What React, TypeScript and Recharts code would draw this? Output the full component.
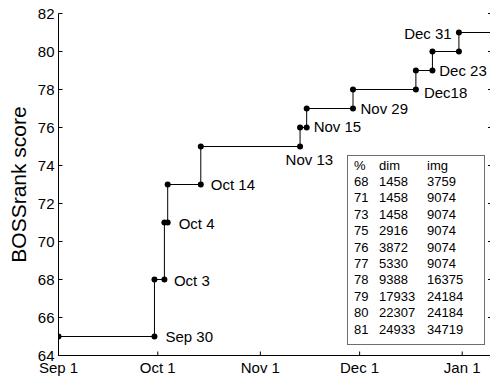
import React from 'react';
import { ComposedChart, Line, Scatter, XAxis, YAxis } from 'recharts';

// days counted from Sep 1; each score level has a dot where it starts and where it ends
const stepDays = [0, 29, 29, 32, 32, 33, 33, 43, 43, 73, 73, 75, 75, 89, 89, 108, 108, 113, 113, 121, 121, 135];
const stepScores = [65, 65, 68, 68, 71, 71, 73, 73, 75, 75, 76, 76, 77, 77, 78, 78, 79, 79, 80, 80, 81, 81];

const xTicks = [0, 30, 61, 91, 122];
const xTickLabels = ['Sep 1', 'Oct 1', 'Nov 1', 'Dec 1', 'Jan 1'];
const yTicks = [64, 66, 68, 70, 72, 74, 76, 78, 80, 82];

const annotLabels = ['Sep 30', 'Oct 3', 'Oct 4', 'Oct 14', 'Nov 13', 'Nov 15', 'Nov 29', 'Dec18', 'Dec 23', 'Dec 31'];
const annotDays = [29, 32, 33, 43, 73, 75, 89, 108, 113, 121];
const annotScores = [65, 68, 71, 73, 75, 76, 77, 78, 79, 81];

const tablePct = [68, 71, 73, 75, 76, 77, 78, 79, 80, 81];
const tableDim = [1458, 1458, 1458, 2916, 3872, 5330, 9388, 17933, 22307, 24933];
const tableImg = [3759, 9074, 9074, 9074, 9074, 9074, 16375, 24184, 24184, 34719];

// where each note sits next to its point: [dx, dy, anchor]
const notePlacement: Record<string, [number, number, 'start' | 'middle' | 'end']> = {
  'Sep 30': [11, 0, 'start'],
  'Oct 3': [9.5, 1, 'start'],
  'Oct 4': [11, 1.5, 'start'],
  'Oct 14': [10, 0, 'start'],
  'Nov 13': [9.3, 13.5, 'middle'],
  'Nov 15': [7, -0.8, 'start'],
  'Nov 29': [7.5, 0, 'start'],
  'Dec18': [8, 3, 'start'],
  'Dec 23': [6.8, 0, 'start'],
  'Dec 31': [-7.2, 0.8, 'end'],
};

const FONT = '"Liberation Sans", Arial, Helvetica, sans-serif';
const TICK_LEN = 4;

const chartData = stepDays.map((day, i) => ({ day, score: stepScores[i] }));
const noteData = annotDays.map((day, i) => ({ day, score: annotScores[i], label: annotLabels[i] }));

const BottomTick = (props: any) => {
  const { x, y, payload } = props;
  const idx = xTicks.indexOf(payload.value);
  return (
    <g>
      <line x1={x} y1={y} x2={x} y2={y - TICK_LEN} stroke="#000" />
      <text x={x} y={y + 17} textAnchor="middle" fontSize={15} fontFamily={FONT} fill="#000">
        {idx >= 0 ? xTickLabels[idx] : ''}
      </text>
    </g>
  );
};

const TopTick = (props: any) => {
  const { x, y } = props;
  return <line x1={x} y1={y} x2={x} y2={y + TICK_LEN} stroke="#000" />;
};

const LeftTick = (props: any) => {
  const { x, y, payload } = props;
  return (
    <g>
      <line x1={x} y1={y} x2={x + TICK_LEN} y2={y} stroke="#000" />
      <text x={x - 4} y={y} dy="0.36em" textAnchor="end" fontSize={15} fontFamily={FONT} fill="#000">
        {payload.value}
      </text>
    </g>
  );
};

const RightTick = (props: any) => {
  const { x, y } = props;
  return <line x1={x} y1={y} x2={x - TICK_LEN} y2={y} stroke="#000" />;
};

const NoteShape = (props: any) => {
  const { cx, cy, payload } = props;
  const [dx, dy, anchor] = notePlacement[payload.label] || [8, 0, 'start'];
  return (
    <text
      x={cx + dx}
      y={cy + dy}
      dy="0.36em"
      textAnchor={anchor}
      fontSize={15}
      fontFamily={FONT}
      fill="#000"
    >
      {payload.label}
    </text>
  );
};

const YLabel = (props: any) => {
  const { viewBox } = props;
  const cy = viewBox.y + viewBox.height / 2;
  return (
    <text
      transform={`translate(26, ${cy}) rotate(-90)`}
      textAnchor="middle"
      fontSize={21}
      fontFamily={FONT}
      fill="#000"
    >
      BOSSrank score
    </text>
  );
};

const StatsTable = () => {
  const colLeft = [7.6, 32.6, 80.6];
  const rows: (string | number)[][] = [['%', 'dim', 'img']];
  tablePct.forEach((p, i) => rows.push([p, tableDim[i], tableImg[i]]));
  return (
    <div
      style={{
        position: 'absolute',
        left: 346.5,
        top: 155,
        width: 138,
        height: 190,
        boxSizing: 'border-box',
        border: '1px solid #6e6e6e',
        background: '#fff',
        fontFamily: FONT,
        fontSize: 13,
        color: '#000',
      }}
    >
      {rows.map((row, r) => (
        <div
          key={r}
          style={{ position: 'absolute', left: 0, top: 1.5 + r * 16.4, height: 16.4, lineHeight: '16.4px', width: '100%' }}
        >
          {row.map((cell, c) => (
            <span key={c} style={{ position: 'absolute', left: colLeft[c] - 1 }}>
              {cell}
            </span>
          ))}
        </div>
      ))}
    </div>
  );
};

export default function App() {
  return (
    <div
      style={{
        position: 'fixed',
        left: 0,
        top: 0,
        width: 490,
        height: 377,
        overflow: 'hidden',
        background: '#fff',
        fontFamily: FONT,
      }}
    >
      <ComposedChart
        width={500}
        height={377}
        data={chartData}
        margin={{ top: 13.5, right: 0, bottom: 0, left: 0 }}
      >
        <XAxis
          dataKey="day"
          type="number"
          domain={[0, 131]}
          allowDataOverflow
          ticks={xTicks}
          interval={0}
          height={21.5}
          tickSize={0}
          tickMargin={0}
          tickLine={false}
          axisLine={{ stroke: '#000', strokeWidth: 1 }}
          tick={<BottomTick />}
        />
        <XAxis
          xAxisId="top"
          orientation="top"
          type="number"
          domain={[0, 131]}
          allowDataOverflow
          ticks={xTicks}
          interval={0}
          height={0}
          tickSize={0}
          tickMargin={0}
          tickLine={false}
          axisLine={{ stroke: '#000', strokeWidth: 1 }}
          tick={<TopTick />}
        />
        <YAxis
          type="number"
          domain={[64, 82]}
          allowDataOverflow
          ticks={yTicks}
          interval={0}
          width={58.5}
          tickSize={0}
          tickMargin={0}
          tickLine={false}
          axisLine={{ stroke: '#000', strokeWidth: 1 }}
          tick={<LeftTick />}
          label={<YLabel />}
        />
        <YAxis
          yAxisId="right"
          orientation="right"
          type="number"
          domain={[64, 82]}
          allowDataOverflow
          ticks={yTicks}
          interval={0}
          width={8}
          tickSize={0}
          tickMargin={0}
          tickLine={false}
          axisLine={{ stroke: '#000', strokeWidth: 1 }}
          tick={<RightTick />}
        />
        <Line
          dataKey="score"
          type="linear"
          stroke="#000"
          strokeWidth={1}
          dot={{ r: 3, fill: '#000', stroke: 'none' }}
          activeDot={false}
          isAnimationActive={false}
        />
        <Scatter
          data={noteData}
          dataKey="score"
          shape={<NoteShape />}
          isAnimationActive={false}
        />
      </ComposedChart>
      <StatsTable />
    </div>
  );
}
